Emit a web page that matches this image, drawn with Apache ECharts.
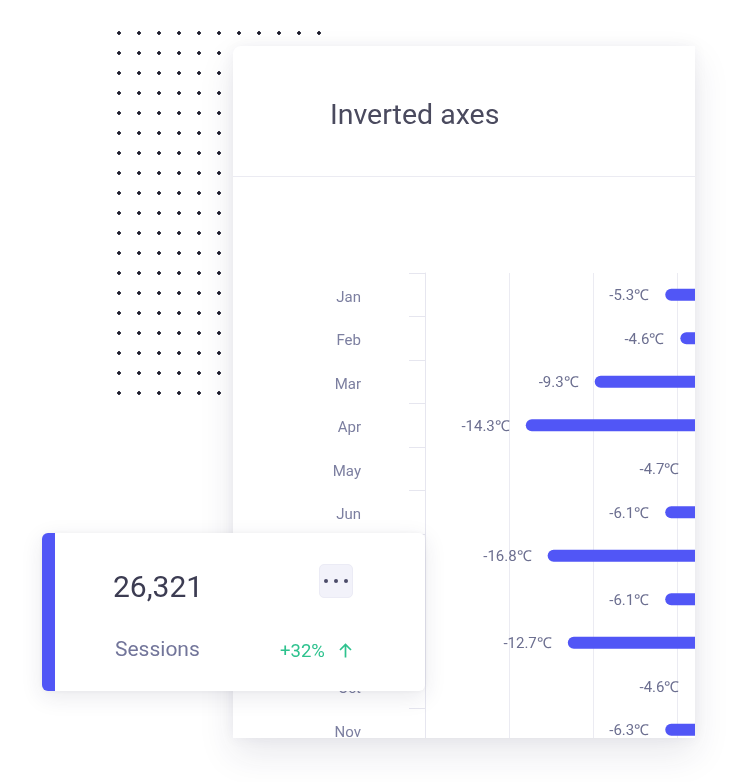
<!DOCTYPE html>
<html>
<head>
<meta charset="utf-8">
<script src="https://cdn.jsdelivr.net/npm/echarts@6/dist/echarts.min.js"></script>
<style>
html,body{margin:0;padding:0;background:#fff;width:734px;height:782px;overflow:hidden;font-family:Roboto,"Noto Sans",sans-serif;}
#dots{position:absolute;left:109px;top:23px;width:220px;height:380px;
  background-image:radial-gradient(circle at 10px 10px,#1b1b2b 1.5px,rgba(27,27,43,0) 2.1px);
  background-size:20px 20px;}
#card{position:absolute;left:233px;top:46px;width:462px;height:692px;background:#fff;
  border-radius:8px 0 0 0;overflow:hidden;
  box-shadow:0 16px 36px rgba(40,40,80,0.10),0 0 14px rgba(40,40,80,0.05);}
#chart{position:absolute;left:0;top:0;width:600px;height:800px;}
#kpi{position:absolute;left:42px;top:533px;width:370px;height:158px;background:#fff;
  border-left:13px solid #5156f6;border-radius:6px;
  box-shadow:0 6px 22px rgba(40,40,80,0.10),0 0 6px rgba(40,40,80,0.05);}
#kpi .num{position:absolute;left:58px;top:39px;font-size:30px;line-height:30px;color:#3c3c52;}
#kpi .lbl{position:absolute;left:60px;top:106px;font-size:21px;line-height:21px;color:#72759a;}
#kpi .pct{position:absolute;left:225px;top:109px;font-size:18.5px;line-height:18px;color:#2ec28e;}
#kpi .arrow{position:absolute;left:283px;top:110px;width:15px;height:15px;}
#kpi .btn{position:absolute;left:264px;top:31px;width:34px;height:34px;background:#f2f2fa;
  border:1px solid #ebebf5;box-sizing:border-box;border-radius:5px;}
</style>
</head>
<body>
<div id="dots"></div>
<div id="card"><div id="chart"></div></div>
<div id="kpi">
  <div class="num">26,321</div>
  <div class="btn"><svg width="32" height="32" style="position:absolute;left:0;top:0">
    <circle cx="6" cy="16" r="2" fill="#4b4b68"/>
    <circle cx="16" cy="16" r="2" fill="#4b4b68"/>
    <circle cx="26" cy="16" r="2" fill="#4b4b68"/></svg></div>
  <div class="lbl">Sessions</div>
  <div class="pct">+32%</div>
  <svg class="arrow" viewBox="0 0 15 15"><path d="M7.5 14.5 V1.5 M2 7 L7.5 1.5 L13 7" stroke="#2ec28e" stroke-width="1.7" fill="none"/></svg>
</div>
<script>
// Data
const months = ['Jan','Feb','Mar','Apr','May','Jun','Jul','Aug','Sep','Oct','Nov','Dec'];
// bar extents
const barValues = [-5.7,-4.8,-9.9,-14.0,-3.9,-5.7,-12.7,-5.7,-11.5,-3.9,-5.7,-5.7];
// values printed beside the bars
const labelValues = [-5.3,-4.6,-9.3,-14.3,-4.7,-6.1,-16.8,-6.1,-12.7,-4.6,-6.3,-6.6];
const valueTicks = {min:-20, max:0, interval:5};

const chart = echarts.init(document.getElementById('chart'), null, {renderer:'canvas'});
chart.setOption({
  animation:false,
  textStyle:{fontFamily:'Roboto'},
  title:{text:'Inverted axes', left:92, top:51, padding:5,
    textStyle:{fontSize:28.5, fontWeight:'normal', color:'#4a4a5e', fontFamily:'Roboto'}},
  graphic:[{type:'line', shape:{x1:0,y1:130.5,x2:600,y2:130.5}, style:{stroke:'#ebebf2', lineWidth:1}}],
  grid:{left:192, right:72, top:227, bottom:51, containLabel:false},
  xAxis:{type:'value', min:valueTicks.min, max:valueTicks.max, interval:valueTicks.interval,
    axisLabel:{show:false}, axisLine:{show:false}, axisTick:{show:false},
    splitLine:{lineStyle:{color:'#ebebf2'}}},
  yAxis:{type:'category', data:months, inverse:true,
    axisLine:{show:true, onZero:false, lineStyle:{color:'#e6e6ef'}},
    axisTick:{show:true, length:16, lineStyle:{color:'#e6e6ef'}},
    axisLabel:{margin:64, color:'#7c7fa0', fontSize:15, fontFamily:'Roboto', verticalAlign:'top', lineHeight:6}},
  series:[{type:'bar', data:barValues, barWidth:12,
    itemStyle:{color:'#5156f6', borderRadius:6},
    label:{show:true, position:'left', distance:16, offset:[0,1.5], color:'#6c6f90', fontSize:15, fontFamily:'Roboto',
      formatter:p=>labelValues[p.dataIndex].toFixed(1)+'℃'}}]
});
</script>
</body>
</html>
